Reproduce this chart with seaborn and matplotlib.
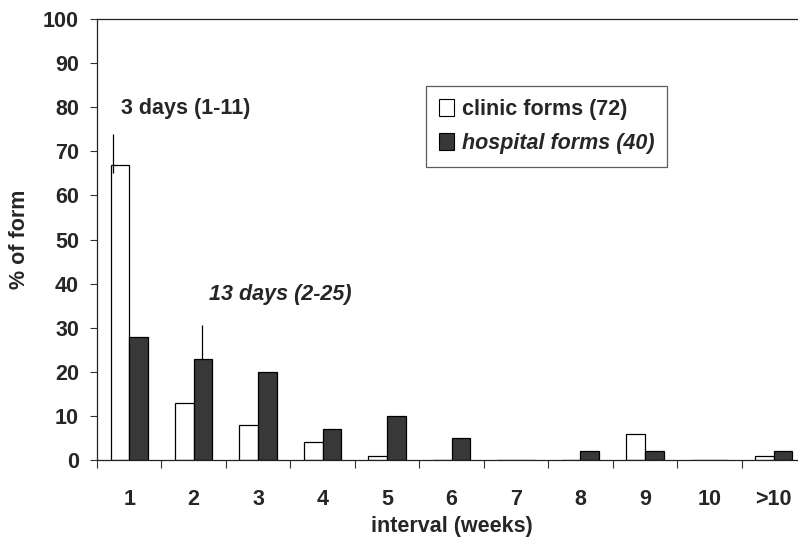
import matplotlib
matplotlib.use("Agg")
import matplotlib.pyplot as plt
from matplotlib.patches import Patch
import seaborn as sns
import pandas as pd
import numpy as np

# Interval categories (weeks) and share of forms returned in each
intervals = ["1", "2", "3", "4", "5", "6", "7", "8", "9", "10", ">10"]
clinic_pct = [67, 13, 8, 4, 1, 0, 0, 0, 6, 0, 1]
hospital_pct = [28, 23, 20, 7, 10, 5, 0, 2, 2, 0, 2]
series_names = ["clinic forms (72)", "hospital forms (40)"]

# Median interval markers: (x position in category units, low, high)
median_marks = [(-0.256, 65, 74), (1.124, 23, 30.6)]
median_labels = [("3 days (1-11)", -0.12, 79.6, "normal"),
                 ("13 days (2-25)", 1.24, 37.6, "italic")]

df = pd.DataFrame({
    "interval": intervals * 2,
    "group": [series_names[0]] * len(intervals) + [series_names[1]] * len(intervals),
    "pct": clinic_pct + hospital_pct,
})

sns.set_style("white")
plt.rcParams["font.family"] = ["Liberation Sans", "DejaVu Sans"]
plt.rcParams["font.weight"] = "bold"
FS = 15.5

fig = plt.figure(figsize=(7.98, 5.43), dpi=100)
ax = fig.add_axes([97 / 798, 1 - 460 / 543, (806 - 97) / 798, (460 - 19) / 543])

colors = {series_names[0]: "white", series_names[1]: "#383838"}
sns.barplot(data=df, x="interval", y="pct", hue="group", order=intervals,
            hue_order=series_names, palette=colors, edgecolor="black",
            linewidth=0.9, width=0.58, gap=0, ax=ax, legend=False)

ax.set_xlim(-0.5, len(intervals) - 0.5)
ax.set_ylim(0, 100)
ax.set_yticks(np.arange(0, 101, 10))

# Tick marks between categories, labels centred under each category
ax.set_xticks(np.arange(-0.5, len(intervals), 1.0))
ax.set_xticklabels([])
ax.set_xticks(np.arange(len(intervals)), minor=True)
ax.set_xticklabels(intervals, minor=True, fontsize=FS, fontweight="bold")
ax.tick_params(axis="x", which="major", direction="out", length=6, width=0.8,
               color="#333333", bottom=True)
ax.tick_params(axis="x", which="minor", length=0, pad=21, bottom=True)
ax.tick_params(axis="y", direction="out", length=5, width=0.8, color="#333333",
               left=True, pad=8, labelsize=FS)
for lab in ax.get_yticklabels():
    lab.set_fontweight("bold")

for side in ["left", "bottom", "top"]:
    ax.spines[side].set_visible(True)
    ax.spines[side].set_color("#222222")
    ax.spines[side].set_linewidth(0.9)
ax.spines["right"].set_visible(False)

ax.set_xlabel("interval (weeks)", fontsize=FS, fontweight="bold", labelpad=4)
ax.set_ylabel("% of form", fontsize=FS, fontweight="bold", labelpad=9)

for x, lo, hi in median_marks:
    ax.vlines(x, lo, hi, color="black", linewidth=0.9, zorder=5)
for text, x, y, style in median_labels:
    ax.text(x, y, text, fontsize=FS, fontweight="bold", fontstyle=style,
            ha="left", va="center")

handles = [Patch(facecolor=colors[n], edgecolor="black", linewidth=0.8) for n in series_names]
leg = ax.legend(handles, series_names, loc="upper left",
                bbox_to_anchor=((426 - 97) / 709, (460 - 86) / 441),
                fontsize=FS, frameon=True, fancybox=False, handlelength=0.7,
                handleheight=0.85, handletextpad=0.35, borderpad=0.6,
                labelspacing=0.6, borderaxespad=0)
leg.get_frame().set_edgecolor("#333333")
leg.get_frame().set_linewidth(0.9)
texts = leg.get_texts()
texts[0].set_fontweight("bold")
texts[1].set_fontweight("bold")
texts[1].set_fontstyle("italic")

fig.savefig("out.png", dpi=100)
